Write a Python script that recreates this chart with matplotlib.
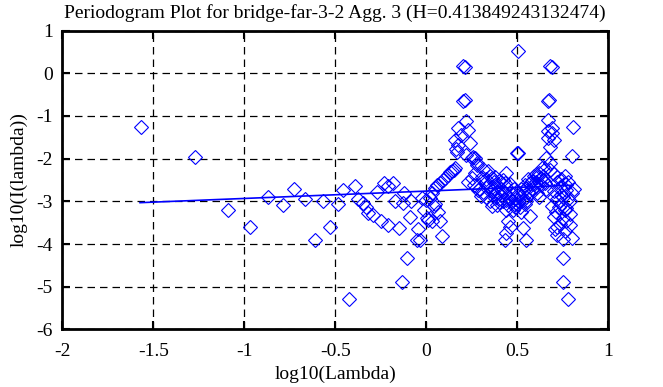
import matplotlib
matplotlib.use("Agg")
import matplotlib.pyplot as plt

plt.rcParams["font.family"] = ["Liberation Serif", "DejaVu Serif"]
plt.rcParams["axes.unicode_minus"] = False

TITLE = "Periodogram Plot for bridge-far-3-2 Agg. 3 (H=0.413849243132474)"

# sparse points, log10(lambda) < 0
sparse_x = [-1.57, -1.27, -1.09, -0.97, -0.87, -0.79, -0.725, -0.667, -0.612, -0.569,
            -0.529, -0.487, -0.456, -0.423, -0.392, -0.374, -0.346, -0.33, -0.319, -0.291,
            -0.272, -0.249, -0.23, -0.212, -0.181, -0.209, -0.15, -0.172, -0.135, -0.123,
            -0.108, -0.126, -0.09, -0.086, -0.053, -0.044, -0.035, -0.025, -0.01, 0.011]
sparse_y = [-1.26, -1.95, -3.20, -3.61, -2.89, -3.08, -2.71, -2.94, -3.90, -3.00,
            -3.61, -3.07, -2.73, -5.29, -2.64, -2.95, -3.04, -3.12, -3.28, -3.32,
            -2.77, -3.47, -2.58, -2.64, -2.58, -3.55, -3.63, -3.00, -4.88, -2.81,
            -4.33, -3.04, -3.36, -3.00, -3.90, -3.65, -3.90, -2.93, -3.20, -3.43]

# rising diagonal and column around 0 .. 0.3
groupA_x = [0.00, 0.02, 0.03, 0.05, 0.06, 0.075, 0.09, 0.10, 0.12, 0.13,
            0.15, 0.16, 0.14, 0.167, 0.176, 0.162, 0.157, 0.176, 0.231, 0.216,
            0.20, 0.21, 0.20, 0.21, 0.24, 0.22, 0.257, 0.27, 0.277, 0.28,
            0.27, 0.25, 0.23, 0.26, 0.29, 0.304, 0.286, 0.31, 0.30, 0.04,
            0.002, 0.03, 0.075, 0.085, 0.066, 0.05, 0.19, 0.249]
groupA_y = [-2.97, -2.92, -2.80, -2.69, -2.62, -2.57, -2.50, -2.46, -2.38, -2.32,
            -2.27, -2.22, -2.30, -1.84, -1.68, -1.77, -1.56, -1.29, -1.33, -1.11,
            -0.65, -0.62, 0.17, 0.15, -1.64, -1.91, -1.95, -1.99, -2.11, -2.15,
            -2.33, -2.45, -2.55, -2.62, -2.70, -2.42, -2.73, -2.77, -2.88, -3.10,
            -3.39, -3.47, -3.47, -3.81, -3.25, -3.05, -1.45, -1.98]

# dense band 0.3 .. 0.5
groupB_x = [0.32, 0.33, 0.34, 0.35, 0.36, 0.37, 0.378, 0.38, 0.39, 0.40,
            0.41, 0.42, 0.43, 0.44, 0.45, 0.46, 0.47, 0.48, 0.49, 0.50,
            0.33, 0.35, 0.37, 0.39, 0.41, 0.43, 0.45, 0.47, 0.49, 0.34,
            0.36, 0.38, 0.40, 0.42, 0.44, 0.46, 0.48, 0.50, 0.387, 0.44,
            0.476, 0.515, 0.44, 0.46, 0.43, 0.45, 0.505, 0.50, 0.44, 0.31,
            0.36, 0.40]
groupB_y = [-2.57, -2.48, -2.65, -2.40, -2.75, -2.55, -2.42, -2.85, -2.62, -2.95,
            -2.70, -2.50, -2.80, -2.34, -2.88, -2.60, -3.00, -2.72, -2.95, -3.05,
            -2.90, -3.00, -2.68, -2.78, -2.86, -2.58, -3.08, -2.82, -3.12, -2.30,
            -2.45, -2.92, -2.52, -3.00, -2.66, -2.94, -3.06, -2.86, -3.09, -3.21,
            -3.21, -3.12, -3.75, -3.59, -3.90, -3.45, -1.87, -1.86, -2.96, -2.25,
            -3.10, -3.02]

# band 0.5 .. 0.7 and the column near 0.67
groupC_x = [0.52, 0.53, 0.54, 0.55, 0.56, 0.57, 0.58, 0.59, 0.60, 0.607,
            0.61, 0.62, 0.63, 0.64, 0.65, 0.66, 0.51, 0.53, 0.55, 0.57,
            0.59, 0.61, 0.63, 0.65, 0.52, 0.54, 0.56, 0.58, 0.60, 0.62,
            0.64, 0.533, 0.55, 0.52, 0.57, 0.55, 0.505, 0.68, 0.69, 0.67,
            0.675, 0.67, 0.69, 0.67, 0.68, 0.66, 0.643, 0.68, 0.804, 0.80,
            0.69, 0.67, 0.70]
groupC_y = [-2.88, -2.75, -2.62, -2.89, -2.48, -2.57, -2.70, -2.40, -2.55, -2.42,
            -2.80, -2.33, -2.62, -2.50, -2.25, -2.72, -3.00, -2.96, -2.68, -2.82,
            -2.60, -2.66, -2.45, -2.58, -2.70, -3.05, -2.78, -2.52, -2.35, -2.90,
            -2.40, -3.63, -3.90, -3.25, -3.35, -2.98, 0.53, 0.17, 0.15, -0.65,
            -0.62, -1.09, -1.27, -1.52, -1.72, -1.99, -2.19, -2.11, -1.26, -1.94,
            -1.40, -1.35, -1.56]

# right edge column 0.68 .. 0.81
groupD_x = [0.68, 0.70, 0.716, 0.72, 0.735, 0.74, 0.753, 0.76, 0.77, 0.78,
            0.79, 0.80, 0.81, 0.70, 0.72, 0.74, 0.76, 0.78, 0.69, 0.71,
            0.73, 0.75, 0.77, 0.79, 0.70, 0.735, 0.77, 0.79, 0.716, 0.753,
            0.80, 0.707, 0.72, 0.76, 0.753, 0.753, 0.78, 0.74, 0.70, 0.76]
groupD_y = [-2.26, -2.35, -2.42, -2.55, -2.66, -2.48, -2.89, -2.60, -2.73, -2.55,
            -3.00, -2.81, -2.70, -2.75, -2.95, -3.05, -3.20, -2.95, -3.10, -3.25,
            -3.12, -3.40, -3.16, -3.30, -3.36, -3.52, -3.45, -3.55, -3.79, -3.89,
            -3.86, -3.65, -3.60, -3.70, -4.33, -4.88, -5.29, -2.85, -2.90, -2.40]

# least squares line, slope = 1 - 2H
fit_x = [-1.573, 0.806]
fit_y = [-3.03, -2.62]

xs = sparse_x + groupA_x + groupB_x + groupC_x + groupD_x
ys = sparse_y + groupA_y + groupB_y + groupC_y + groupD_y

fig = plt.figure(figsize=(6.63, 3.87), dpi=100)
ax = fig.add_axes([0.094, 0.1486, 0.8235, 0.7724])

ax.plot(xs, ys, linestyle="none", marker="D", markersize=7.4,
        markerfacecolor="none", markeredgecolor="#0000ff", markeredgewidth=0.8)
ax.plot(fit_x, fit_y, color="#0000ff", linewidth=1.2)

ax.set_xlim(-2, 1)
ax.set_ylim(-6, 1)
ax.set_xticks([-2, -1.5, -1, -0.5, 0, 0.5, 1])
ax.set_xticklabels(["-2", "-1.5", "-1", "-0.5", "0", "0.5", "1"])
ax.set_yticks(range(-6, 2))
ax.set_yticklabels([str(v) for v in range(-6, 2)])
ax.grid(True, color="black", linestyle=(0, (6, 4)), linewidth=0.9)
ax.tick_params(direction="in", length=6, width=1.5, top=True, right=True,
               labelsize=14)
ax.tick_params(axis="x", pad=10)
ax.tick_params(axis="y", pad=7)
for sp in ax.spines.values():
    sp.set_linewidth(2)

ax.set_xlabel("log10(Lambda)", fontsize=14, labelpad=4)
ax.set_ylabel("log10(I(lambda))", fontsize=14, labelpad=6)
ax.set_title(TITLE, fontsize=14, pad=9)

fig.savefig("out.png", dpi=100)
